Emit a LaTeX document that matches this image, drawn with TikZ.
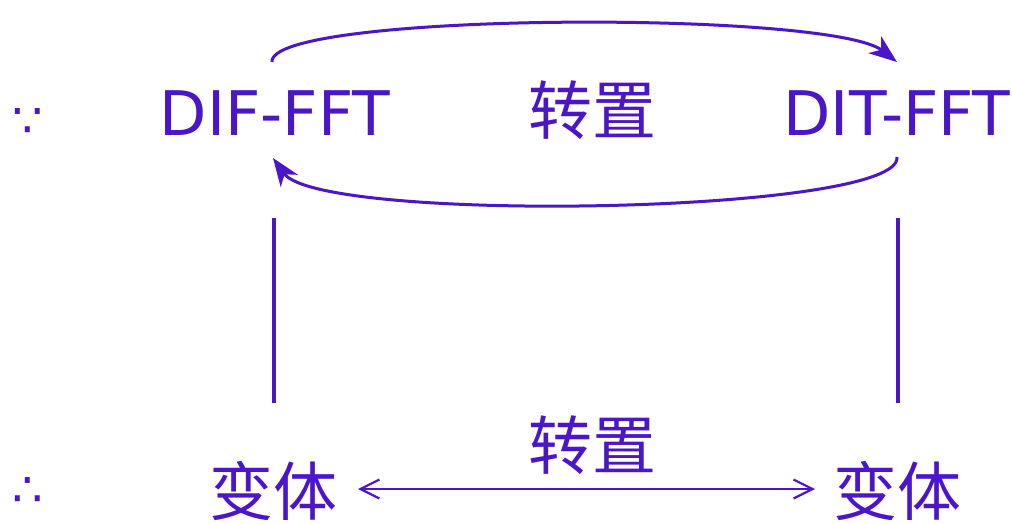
\documentclass[tikz,border=0pt]{standalone}
\usepackage{fontspec}
\setmainfont{DejaVu Sans}
\newfontfamily\cjk{Noto Sans CJK SC}
\usetikzlibrary{arrows.meta}
\definecolor{ink}{RGB}{74,22,200}
\tikzset{
  lat/.style={text=ink, inner sep=0pt, font=\fontsize{61.5}{62}\selectfont},
  zh/.style={text=ink, inner sep=0pt, font=\cjk\fontsize{64}{64}\selectfont},
  sym/.style={text=ink, inner sep=0pt, font=\fontsize{48}{48}\selectfont},
  arc/.style={draw=ink, line width=3pt, -{Stealth[length=28pt, width=21pt, inset=8pt]}},
  vline/.style={draw=ink, line width=4pt},
  dbl/.style={draw=ink, line width=2.2pt, {Straight Barb[length=19pt, width=19pt]}-{Straight Barb[length=19pt, width=19pt]}}
}
\begin{document}
\begin{tikzpicture}[x=1pt, y=-1pt]
\useasboundingbox (0,0) rectangle (1012,523);
% texts
\node[lat, anchor=base] (dif) at (275,135) {DIF-FFT};
\node[lat, anchor=base] (dit) at (897,135) {DIT-FFT};
\node[zh] (zt) at (592,110) {转置};
\node[zh] (zb) at (592,445) {转置};
\node[zh] (bl) at (273,491) {变体};
\node[zh] (br) at (897,491) {变体};
\node[sym] (because) at (28,123) {∵};
\node[sym] (therefore) at (28,492) {∴};
% anchor points
\coordinate (a1) at (272,62);
\coordinate (a2) at (897,62);
\coordinate (b1) at (897,157);
\coordinate (b2) at (273,158);
\coordinate (l1) at (274,218);
\coordinate (l2) at (274,403);
\coordinate (r1) at (898,218);
\coordinate (r2) at (898,403);
\coordinate (d1) at (358,489);
\coordinate (d2) at (815,489);
% arcs
\draw[arc] (a1) .. controls (268,12) and (830,10) .. (a2);
\draw[arc] (b1) .. controls (903,214) and (320,224) .. (b2);
% vertical lines
\draw[vline] (l1) -- (l2);
\draw[vline] (r1) -- (r2);
% double arrow
\draw[dbl] (d1) -- (d2);
\end{tikzpicture}
\end{document}
